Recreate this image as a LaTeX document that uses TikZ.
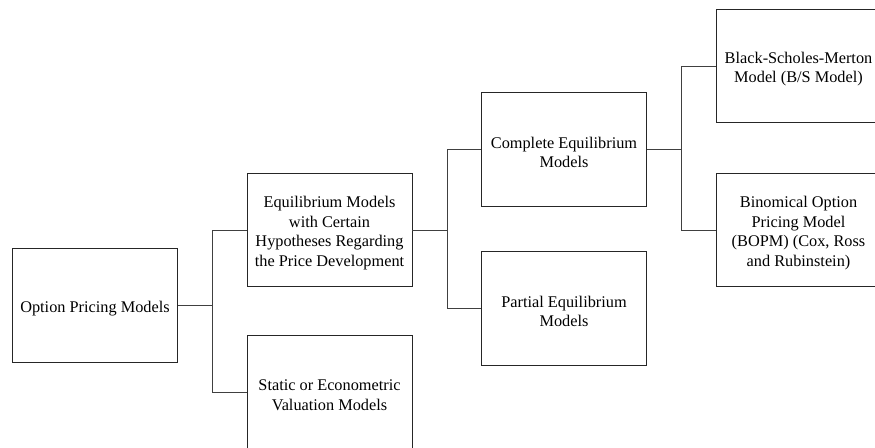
\documentclass[tikz,border=0pt]{standalone}
\usepackage{fontspec}
\setmainfont{Liberation Serif}
\begin{document}
\begin{tikzpicture}[x=1pt,y=-1pt,
  lbl/.style={align=center, inner sep=0pt, yshift=-3pt,
    font=\fontsize{16.3}{19.8}\selectfont},
  box/.style={draw=black!85, line width=0.8pt, rectangle, inner sep=0pt,
    minimum width=165pt, minimum height=113.5pt,
    label={[lbl]center:{#1}}},
  conn/.style={draw=black!75, line width=0.8pt}]
\useasboundingbox (0,0) rectangle (875,447);
\node[box={Option Pricing Models}] (A) at (95,305.5) {};
\node[box={Equilibrium Models\\with Certain\\Hypotheses Regarding\\the Price Development}] (B) at (329.5,230) {};
\node[box={Static or Econometric\\Valuation Models}] (C) at (329.5,392.5) {};
\node[box={Complete Equilibrium\\Models}] (D) at (564,149.5) {};
\node[box={Partial Equilibrium\\Models}] (E) at (564,308.5) {};
\node[box={Black-Scholes-Merton\\Model (B/S Model)}] (F) at (798.5,66) {};
\node[box={Binomical Option\\Pricing Model\\(BOPM) (Cox, Ross\\and Rubinstein)}] (G) at (798.5,230) {};
\coordinate (j1) at (212.25,0);
\coordinate (j2) at (447,0);
\coordinate (j3) at (681.5,0);
\draw[conn] (A.east) -- (A.east -| j1);
\draw[conn] (B.west) -| (j1 |- C.west) -- (C.west);
\draw[conn] (B.east) -- (B.east -| j2);
\draw[conn] (D.west) -| (j2 |- E.west) -- (E.west);
\draw[conn] (D.east) -- (D.east -| j3);
\draw[conn] (F.west) -| (j3 |- G.west) -- (G.west);
\end{tikzpicture}
\end{document}
